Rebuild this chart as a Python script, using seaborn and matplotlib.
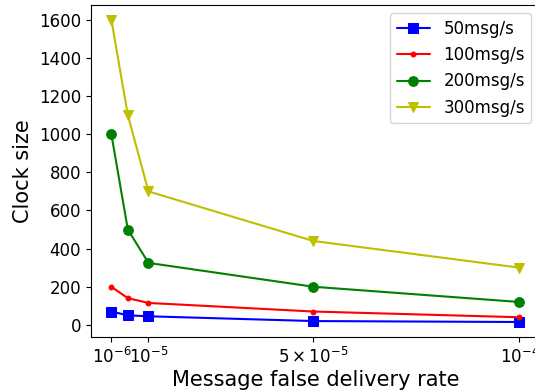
import matplotlib
matplotlib.use("Agg")
import matplotlib.pyplot as plt
import seaborn as sns
import pandas as pd

rates = [1e-6, 5e-6, 1e-5, 5e-5, 1e-4]
s50 = [70, 50, 45, 20, 15]
s100 = [200, 140, 115, 70, 40]
s200 = [1000, 500, 325, 200, 120]
s300 = [1600, 1100, 700, 440, 300]
series_names = ["50msg/s", "100msg/s", "200msg/s", "300msg/s"]
tick_vals = [1e-6, 1e-5, 5e-5, 1e-4]
tick_labels = [r"$10^{-6}$", r"$10^{-5}$", r"$5\times10^{-5}$", r"$10^{-4}$"]

sns.set_style("ticks", rc={"axes.edgecolor": "black", "text.color": "black",
                           "axes.labelcolor": "black", "xtick.color": "black",
                           "ytick.color": "black"})
plt.rcParams['font.family'] = ['DejaVu Sans']

colors = ["b", "r", "g", "y"]
markers = ["s", ".", "o", "v"]
msizes = [7, 7, 7, 7]

fig = plt.figure(figsize=(5.35, 3.92), dpi=100)
ax = fig.add_axes([0.170, 0.140, 0.839, 0.848])

for name, vals, c, m, ms in zip(series_names, [s50, s100, s200, s300], colors, markers, msizes):
    df = pd.DataFrame({"rate": rates, "size": vals})
    sns.lineplot(data=df, x="rate", y="size", ax=ax, color=c, marker=m,
                 markersize=ms, markeredgecolor=c, linewidth=1.5, label=name)

ax.set_xticks(tick_vals)
ax.set_xticklabels(tick_labels, fontsize=12)
ax.tick_params(axis="y", labelsize=12)
ax.set_yticks([0, 200, 400, 600, 800, 1000, 1200, 1400, 1600])
ax.set_xlabel("Message false delivery rate", fontsize=15, labelpad=2)
ax.set_ylabel("Clock size", fontsize=15)
ax.legend(loc="upper right", fontsize=12)
fig.savefig("out.png", dpi=100)
